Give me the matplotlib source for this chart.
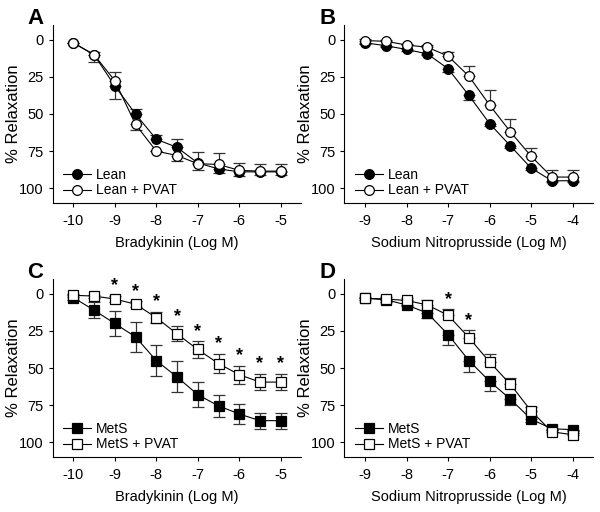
import matplotlib
matplotlib.use("Agg")
import matplotlib.pyplot as plt
import numpy as np

plt.rcParams['font.family'] = ['Liberation Sans', 'DejaVu Sans']

# concentrations (log M)
bk_x = [-10, -9.5, -9, -8.5, -8, -7.5, -7, -6.5, -6, -5.5, -5]
snp_x = [-9, -8.5, -8, -7.5, -7, -6.5, -6, -5.5, -5, -4.5, -4]

# A: bradykinin, lean (signed SEM: + drawn downward, - drawn upward)
a_lean = [2, 10, 31, 50, 67, 72.5, 83, 87, 89, 89, 89]
a_lean_err = [0, 5, 9, -3.5, -3, -5.5, -7.5, 3, 2.5, 2, 2]
a_pvat = [2, 10, 27.5, 57, 75, 78, 83.5, 84, 88, 88.5, 88.5]
a_pvat_err = [0, -2, -5.5, 4, 0, 3.5, 4.5, -8, -5, -5, -5]

# B: sodium nitroprusside, lean
b_lean = [2, 4, 6.5, 9.5, 19.5, 37.5, 56.5, 71.5, 86.5, 95, 95]
b_lean_err = [1, 1, 1, 1, 2.5, 3, 1.5, 1.5, 1, 1, 1]
b_pvat = [0.5, 1, 3.5, 5, 11, 24.5, 44, 62, 78.5, 92.5, 92.5]
b_pvat_err = [-1, -1, -1, -1.5, -3, -6.7, -10, -8.5, -5.5, -5, -5]

# C: bradykinin, MetS (symmetric SEM)
c_mets = [2.5, 11, 20, 29, 45, 56, 68, 75.5, 81, 85.5, 85.5]
c_mets_err = [2, 5.5, 8.5, 10, 10.5, 10.5, 8.5, 7.5, 6.5, 5.5, 5.5]
c_pvat = [1, 1.5, 3.5, 7, 16, 27, 37.5, 47, 54.5, 59.5, 59.5]
c_pvat_err = [1, 1, 2, 2, 4, 5, 5.5, 6.5, 6, 5.5, 5.5]
c_sig = [False, False, True, True, True, True, True, True, True, True, True]

# D: sodium nitroprusside, MetS
d_mets = [3, 4, 7.5, 13, 27.5, 45, 59, 71, 84.5, 91, 91.5]
d_mets_err = [1, 1.5, 1, 3, 7, 8, 6.5, 4, 2, 1, 1]
d_pvat = [3, 3.5, 4.5, 7.5, 14.5, 29.5, 46, 61, 79, 93, 95]
d_pvat_err = [-1, -1.5, -1.5, -3.5, -4, -5, -5.5, -4, -3, -1, -1]
d_sig = [False, False, False, False, True, True, False, False, False, False, False]


def signed(err):
    err = np.asarray(err, dtype=float)
    return [np.clip(-err, 0, None), np.clip(err, 0, None)]


def draw_series(ax, x, y, yerr, marker, face, label, z):
    ax.errorbar(x, y, yerr=yerr, fmt='none', ecolor='#333333', elinewidth=0.9,
                capsize=4, capthick=0.9, zorder=z)
    ax.plot(x, y, '-', color='black', lw=0.8, marker=marker, ms=7 if marker == 'o' else 6.5,
            mfc=face, mec='black', mew=0.9, label=label, zorder=z + 0.5)


def style_axis(ax, x, xlabel, letter):
    ax.set_xlim(x[0] - 0.5, x[-1] + 0.5)
    ax.set_ylim(110, -10)
    ax.set_yticks([0, 25, 50, 75, 100])
    ax.set_xticks(x[::2])
    ax.set_xticklabels([str(v) for v in x[::2]])
    for s in ['top', 'right']:
        ax.spines[s].set_visible(False)
    ax.tick_params(direction='out', length=3, width=0.8, labelsize=10.5)
    ax.tick_params(axis='x', pad=5)
    ax.set_xlabel(xlabel, fontsize=10.5, labelpad=6)
    ax.set_ylabel('% Relaxation', fontsize=12)
    ax.yaxis.set_label_coords(-0.125, 0.5)
    ax.legend(loc='lower left', frameon=False, fontsize=10, handlelength=2.0,
              handletextpad=0.4, labelspacing=0.12, borderaxespad=0.0,
              bbox_to_anchor=(0.02, 0.0))
    ax.text(-0.1, 1.095, letter, transform=ax.transAxes, fontsize=16,
            fontweight='bold', va='top', ha='left')


fig = plt.figure(figsize=(6, 5.12), dpi=100)
axA = fig.add_axes([0.0875, 0.6035, 0.415, 0.3477])
axB = fig.add_axes([0.574, 0.6035, 0.415, 0.3477])
axC = fig.add_axes([0.0875, 0.1074, 0.415, 0.3477])
axD = fig.add_axes([0.574, 0.1074, 0.415, 0.3477])

draw_series(axA, bk_x, a_lean, signed(a_lean_err), 'o', 'black', 'Lean', 2)
draw_series(axA, bk_x, a_pvat, signed(a_pvat_err), 'o', 'white', 'Lean + PVAT', 3)
style_axis(axA, bk_x, 'Bradykinin (Log M)', 'A')

draw_series(axB, snp_x, b_lean, signed(b_lean_err), 'o', 'black', 'Lean', 2)
draw_series(axB, snp_x, b_pvat, signed(b_pvat_err), 'o', 'white', 'Lean + PVAT', 3)
style_axis(axB, snp_x, 'Sodium Nitroprusside (Log M)', 'B')

draw_series(axC, bk_x, c_mets, c_mets_err, 's', 'black', 'MetS', 2)
draw_series(axC, bk_x, c_pvat, c_pvat_err, 's', 'white', 'MetS + PVAT', 3)
style_axis(axC, bk_x, 'Bradykinin (Log M)', 'C')
for xi, yi, ei, s in zip(bk_x, c_pvat, c_pvat_err, c_sig):
    if s:
        axC.text(xi, yi - ei - 1, '*', ha='center', va='bottom', fontsize=13, fontweight='bold')

draw_series(axD, snp_x, d_mets, signed(d_mets_err), 's', 'black', 'MetS', 2)
draw_series(axD, snp_x, d_pvat, signed(d_pvat_err), 's', 'white', 'MetS + PVAT', 3)
style_axis(axD, snp_x, 'Sodium Nitroprusside (Log M)', 'D')
for xi, yi, ei, s in zip(snp_x, d_pvat, d_pvat_err, d_sig):
    if s:
        axD.text(xi, yi - abs(ei) - 1, '*', ha='center', va='bottom', fontsize=13, fontweight='bold')

fig.savefig('out.png', dpi=100, facecolor='white')
